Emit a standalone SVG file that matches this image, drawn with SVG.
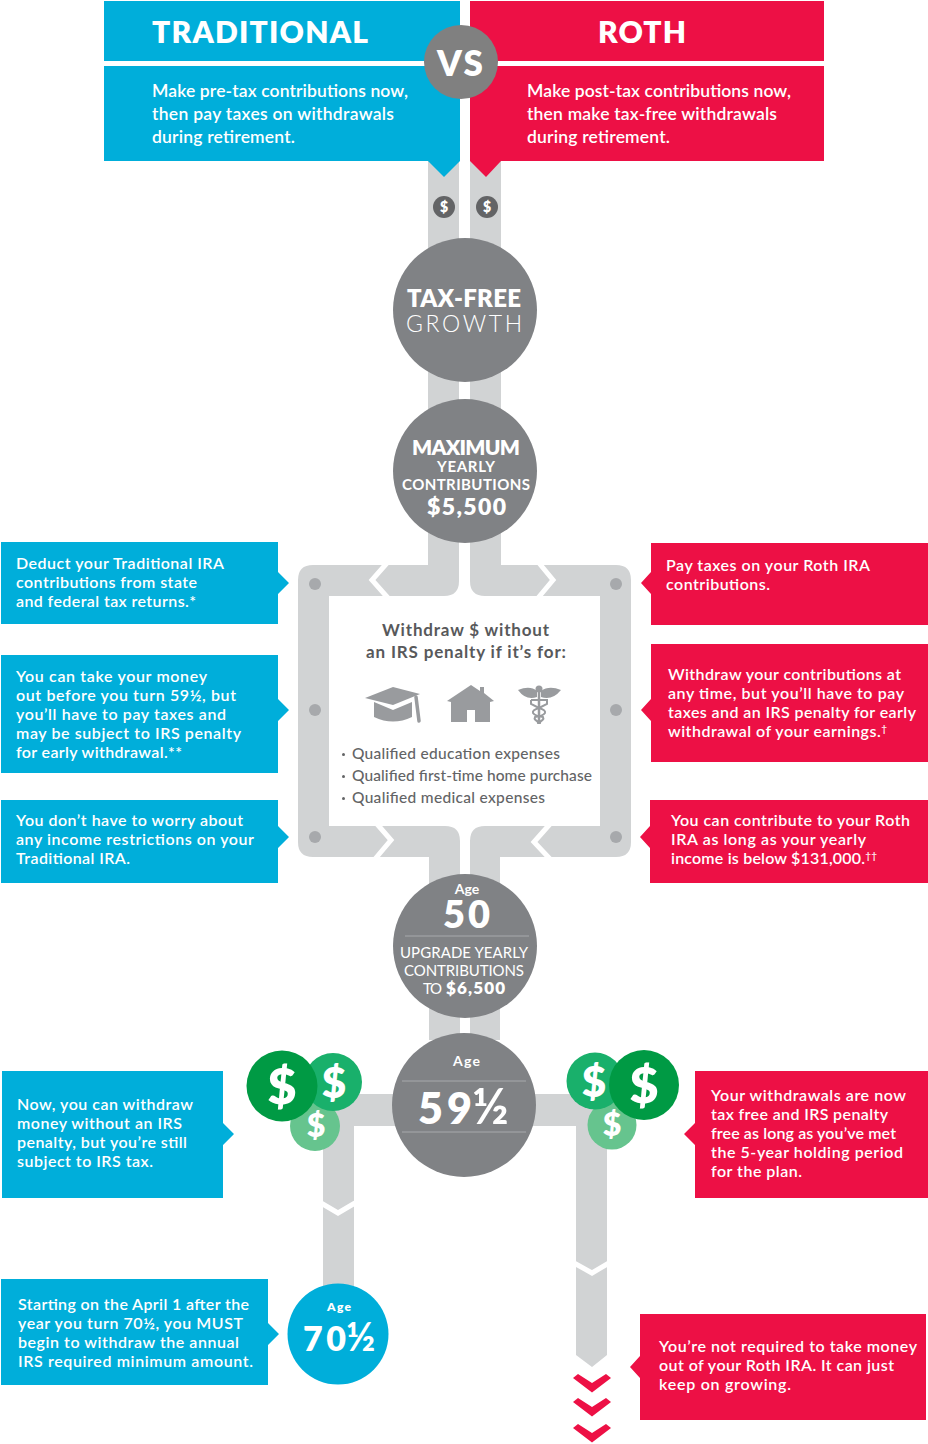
<svg xmlns="http://www.w3.org/2000/svg" width="928" height="1444" viewBox="0 0 928 1444">
<style>
text{font-family:"Lato","Open Sans","Liberation Sans",sans-serif;font-weight:500}
.w{fill:#fff}
.b{fill:#00AEDA}
.r{fill:#ED1045}
.c{fill:#808285}
.p{fill:#D1D3D4}
.cut{fill:none;stroke:#fff;stroke-width:5}
.dot{fill:#A7A9AC}
.t{fill:#fff;font-size:16px;font-weight:600}
.h{fill:#fff;font-size:17.5px;font-weight:600}
.d{fill:#58595B;font-size:17px;font-weight:700}
.l{fill:#636466;font-size:15.5px}
.ic{fill:#999B9E}
.m{text-anchor:middle}
.rule{stroke:#A7A9AC;stroke-width:1}
.sup{font-size:10px}
.g1{fill:#009A44}.g2{fill:#19B06B}.g3{fill:#66C48E}
</style>
<g id="connectors">
<path class="p" d="M428,161V565H313Q298,565 298,580V842Q298,857 313,857H429V1040H460V841Q460,826 445,826H329V596H444Q459,596 459,581V161Z"/>
<path class="p" d="M470,161V581Q470,596 485,596H600V826H485Q470,826 470,841V1040H500V857H616Q631,857 631,842V580Q631,565 616,565H501V161Z"/>
<path class="p" d="M354,1200V1126H576V1355L592,1367L607,1355V1094H323V1300H354Z"/>
<polyline class="cut" points="387,563 372,580 388,598"/>
<polyline class="cut" points="539,563 553,580 538,598"/>
<polyline class="cut" points="377,824 391,840 375,859"/>
<polyline class="cut" points="550,824 534,842 550,859"/>
<polyline class="cut" points="321,1203 338,1213 355,1203"/>
<polyline class="cut" points="574,1263 592,1273 609,1263"/>
<polygon class="r" points="573,1378 578,1374 592,1383 606,1374 611,1378 592,1392.500"/>
<polygon class="r" points="573,1402 578,1398 592,1407 606,1398 611,1402 592,1416.500"/>
<polygon class="r" points="573,1428 578,1424 592,1433 606,1424 611,1428 592,1442.500"/>
</g>
<g id="traditional">
<rect class="b" x="104" y="1" width="356" height="60"/>
<path class="b" d="M104,66H460V161L444,177L428,161H104Z"/>
<text class="w" x="152" y="43" font-size="30" style="font-weight:800" textLength="216">TRADITIONAL</text>
<text class="h" x="152" y="97" textLength="256">Make pre-tax contributions now,</text>
<text class="h" x="152" y="120" textLength="242">then pay taxes on withdrawals</text>
<text class="h" x="152" y="143" textLength="143">during retirement.</text>
</g>
<g id="roth">
<rect class="r" x="470" y="1" width="354" height="60"/>
<path class="r" d="M470,66H824V161H501L486,177L470,161Z"/>
<text class="w" x="598" y="43" font-size="30" style="font-weight:800" textLength="88">ROTH</text>
<text class="h" x="527" y="97" textLength="264">Make post-tax contributions now,</text>
<text class="h" x="527" y="120" textLength="250">then make tax-free withdrawals</text>
<text class="h" x="527" y="143" textLength="143">during retirement.</text>
</g>
<g id="vs">
<circle cx="461" cy="62" r="37" fill="#808080"/>
<text class="w" x="437" y="76" font-size="35" style="font-weight:800" textLength="46">VS</text>
</g>
<g id="dollar-left"><circle cx="444" cy="207" r="11" fill="#636466"/><text class="w m" x="444" y="212" font-size="14" style="font-weight:800">$</text></g>
<g id="dollar-right"><circle cx="487" cy="207" r="11" fill="#636466"/><text class="w m" x="487" y="212" font-size="14" style="font-weight:800">$</text></g>
<g id="tax-free">
<circle class="c" cx="465" cy="310" r="72"/>
<text class="w" x="407" y="307" font-size="24" style="font-weight:800" textLength="114">TAX-FREE</text>
<text class="w" x="406" y="332" font-size="23" style="font-weight:300" textLength="116">GROWTH</text>
</g>
<g id="maximum">
<circle class="c" cx="465" cy="471" r="72"/>
<text class="w" x="412" y="455" font-size="21" style="font-weight:800" textLength="108">MAXIMUM</text>
<text class="w" x="437" y="472" font-size="15" style="font-weight:700" textLength="58">YEARLY</text>
<text class="w" x="402" y="490" font-size="15" style="font-weight:700" textLength="128">CONTRIBUTIONS</text>
<text class="w" x="427" y="515" font-size="23" style="font-weight:800" textLength="79">$5,500</text>
</g>
<g id="panel">
<text class="d" x="382" y="636" textLength="167">Withdraw $ without</text>
<text class="d" x="366" y="658" textLength="200">an IRS penalty if it’s for:</text>
<g id="icon-cap">
<path class="ic" d="M365,698L393,687L420,694L393,705Z"/>
<path class="ic" d="M374,702V717Q393,726 412,717V702L393,710Z"/>
<path d="M416,697L419,721" stroke="#999B9E" stroke-width="3.500" stroke-linecap="round" fill="none"/>
</g>
<path id="icon-home" class="ic" d="M447,701L471,685L480,691V687H484V693L494,701L490,702V722H475V710H467V722H451V702Z"/>
<g id="icon-medical">
<path class="ic" d="M518,690Q530,685 537,691V697Q526,701 518,690ZM561,690Q549,685 541,691V697Q552,701 561,690Z"/>
<circle class="ic" cx="539" cy="689" r="3.500"/>
<path d="M539,692V724" stroke="#999B9E" stroke-width="2.500" fill="none"/>
<path d="M531,700H547V704L539,708Q532,710 533,713Q535,716 543,717Q545,720 537,723M531,700V704L539,708Q546,710 545,713Q543,716 535,717Q533,720 541,723" stroke="#999B9E" stroke-width="2" fill="none"/>
</g>
<circle cx="343.500" cy="754.500" r="1.500" fill="#636466"/>
<circle cx="343.500" cy="776.500" r="1.500" fill="#636466"/>
<circle cx="343.500" cy="798.500" r="1.500" fill="#636466"/>
<text class="l" x="352" y="759" textLength="208">Qualified education expenses</text>
<text class="l" x="352" y="781" textLength="240">Qualified first-time home purchase</text>
<text class="l" x="352" y="803" textLength="193">Qualified medical expenses</text>
</g>
<g id="dots">
<circle class="dot" cx="315" cy="584" r="6"/><circle class="dot" cx="315" cy="710" r="6"/><circle class="dot" cx="315" cy="837" r="6"/>
<circle class="dot" cx="616" cy="584" r="6"/><circle class="dot" cx="616" cy="710" r="6"/><circle class="dot" cx="616" cy="837" r="6"/>
</g>
<g id="trad-note-1">
<path class="b" d="M1,542H278V572L289,583L278,594V624H1Z"/>
<text class="t" x="16" y="569" textLength="208">Deduct your Traditional IRA</text>
<text class="t" x="16" y="588" textLength="181">contributions from state</text>
<text class="t" x="16" y="607" textLength="180">and federal tax returns.*</text>
</g>
<g id="trad-note-2">
<path class="b" d="M1,655H278V699L289,710L278,721V773H1Z"/>
<text class="t" x="16" y="682" textLength="191">You can take your money</text>
<text class="t" x="16" y="701" textLength="220">out before you turn 59½, but</text>
<text class="t" x="16" y="720" textLength="210">you’ll have to pay taxes and</text>
<text class="t" x="16" y="739" textLength="225">may be subject to IRS penalty</text>
<text class="t" x="16" y="758" textLength="166">for early withdrawal.**</text>
</g>
<g id="trad-note-3">
<path class="b" d="M1,800H278V826L289,837L278,848V883H1Z"/>
<text class="t" x="16" y="826" textLength="227">You don’t have to worry about</text>
<text class="t" x="16" y="845" textLength="238">any income restrictions on your</text>
<text class="t" x="16" y="864" textLength="114">Traditional IRA.</text>
</g>
<g id="trad-note-4">
<path class="b" d="M2,1071H223V1123L234,1134L223,1145V1198H2Z"/>
<text class="t" x="17" y="1110" textLength="176">Now, you can withdraw</text>
<text class="t" x="17" y="1129" textLength="165">money without an IRS</text>
<text class="t" x="17" y="1148" textLength="170">penalty, but you’re still</text>
<text class="t" x="17" y="1167" textLength="136">subject to IRS tax.</text>
</g>
<g id="trad-note-5">
<path class="b" d="M1,1279H268V1323L279,1334L268,1345V1385H1Z"/>
<text class="t" x="18" y="1310" textLength="231">Starting on the April 1 after the</text>
<text class="t" x="18" y="1329" textLength="225">year you turn 70½, you MUST</text>
<text class="t" x="18" y="1348" textLength="221">begin to withdraw the annual</text>
<text class="t" x="18" y="1367" textLength="235">IRS required minimum amount.</text>
</g>
<g id="roth-note-1">
<path class="r" d="M651,543H928V625H651V594L641,583L651,572Z"/>
<text class="t" x="666" y="571" textLength="204">Pay taxes on your Roth IRA</text>
<text class="t" x="666" y="590" textLength="104">contributions.</text>
</g>
<g id="roth-note-2">
<path class="r" d="M651,644H928V762H651V721L641,710L651,699Z"/>
<text class="t" x="668" y="680" textLength="233">Withdraw your contributions at</text>
<text class="t" x="668" y="699" textLength="236">any time, but you’ll have to pay</text>
<text class="t" x="668" y="718" textLength="248">taxes and an IRS penalty for early</text>
<text class="t" x="668" y="737" textLength="219">withdrawal of your earnings.<tspan class="sup" dy="-5">†</tspan></text>
</g>
<g id="roth-note-3">
<path class="r" d="M650,800H928V883H650V848L640,837L650,826Z"/>
<text class="t" x="671" y="826" textLength="239">You can contribute to your Roth</text>
<text class="t" x="671" y="845" textLength="195">IRA as long as your yearly</text>
<text class="t" x="671" y="864" textLength="206">income is below $131,000.<tspan class="sup" dy="-5">††</tspan></text>
</g>
<g id="roth-note-4">
<path class="r" d="M695,1071H928V1198H695V1145L684,1134L695,1123Z"/>
<text class="t" x="711" y="1101" textLength="195">Your withdrawals are now</text>
<text class="t" x="711" y="1120" textLength="177">tax free and IRS penalty</text>
<text class="t" x="711" y="1139" textLength="185">free as long as you’ve met</text>
<text class="t" x="711" y="1158" textLength="192">the 5-year holding period</text>
<text class="t" x="711" y="1177" textLength="91">for the plan.</text>
</g>
<g id="roth-note-5">
<path class="r" d="M640,1314H926V1420H640V1378L630,1367L640,1356Z"/>
<text class="t" x="659" y="1352" textLength="258">You’re not required to take money</text>
<text class="t" x="659" y="1371" textLength="235">out of your Roth IRA. It can just</text>
<text class="t" x="659" y="1390" textLength="132">keep on growing.</text>
</g>
<g id="age-50">
<circle class="c" cx="465" cy="946" r="72"/>
<text class="w m" x="467" y="894" font-size="14" style="font-weight:700">Age</text>
<text class="w" x="443" y="928" font-size="38" style="font-weight:800" textLength="47">50</text>
<line class="rule" x1="405" y1="936" x2="529" y2="936"/>
<text class="w" x="400" y="958" font-size="15" style="font-weight:400" textLength="128">UPGRADE YEARLY</text>
<text class="w" x="404" y="976" font-size="15" style="font-weight:400" textLength="120">CONTRIBUTIONS</text>
<text class="w" x="423" y="994" font-size="15" style="font-weight:400" textLength="19">TO</text>
<text class="w" x="446" y="994" font-size="17" style="font-weight:800" textLength="59">$6,500</text>
</g>
<g id="age-59">
<circle class="c" cx="464" cy="1105" r="72"/>
<text class="w" x="453" y="1066" font-size="14" style="font-weight:700" textLength="27">Age</text>
<line class="rule" x1="402" y1="1081" x2="526" y2="1081"/>
<text class="w" x="418" y="1124" font-size="43" style="font-weight:800"><tspan x="418" textLength="54">59</tspan><tspan x="472" font-size="50" style="font-weight:700" textLength="35">½</tspan></text>
<line class="rule" x1="402" y1="1132" x2="526" y2="1132"/>
</g>
<g id="age-70">
<circle class="b" cx="338" cy="1334" r="50.500"/>
<text class="w" x="327" y="1311" font-size="12" style="font-weight:800" textLength="24">Age</text>
<text class="w" x="303" y="1351" font-size="34" style="font-weight:800"><tspan x="303" textLength="43">70</tspan><tspan x="346" font-size="40" style="font-weight:700" textLength="27">½</tspan></text>
</g>
<g id="money-left">
<circle class="g3" cx="315" cy="1126" r="25"/><circle class="g2" cx="333" cy="1082" r="29"/><circle class="g1" cx="282" cy="1086" r="35.500"/>
<text class="w m" x="316" y="1137" font-size="32" style="font-weight:800">$</text>
<text class="w m" x="334" y="1097" font-size="42" style="font-weight:800">$</text>
<text class="w m" x="282" y="1104" font-size="50" style="font-weight:800">$</text>
</g>
<g id="money-right">
<circle class="g3" cx="612" cy="1125" r="24.500"/><circle class="g2" cx="595" cy="1081" r="28.500"/><circle class="g1" cx="644" cy="1085" r="35"/>
<text class="w m" x="612" y="1136" font-size="32" style="font-weight:800">$</text>
<text class="w m" x="594" y="1096" font-size="42" style="font-weight:800">$</text>
<text class="w m" x="644" y="1103" font-size="50" style="font-weight:800">$</text>
</g>
</svg>
